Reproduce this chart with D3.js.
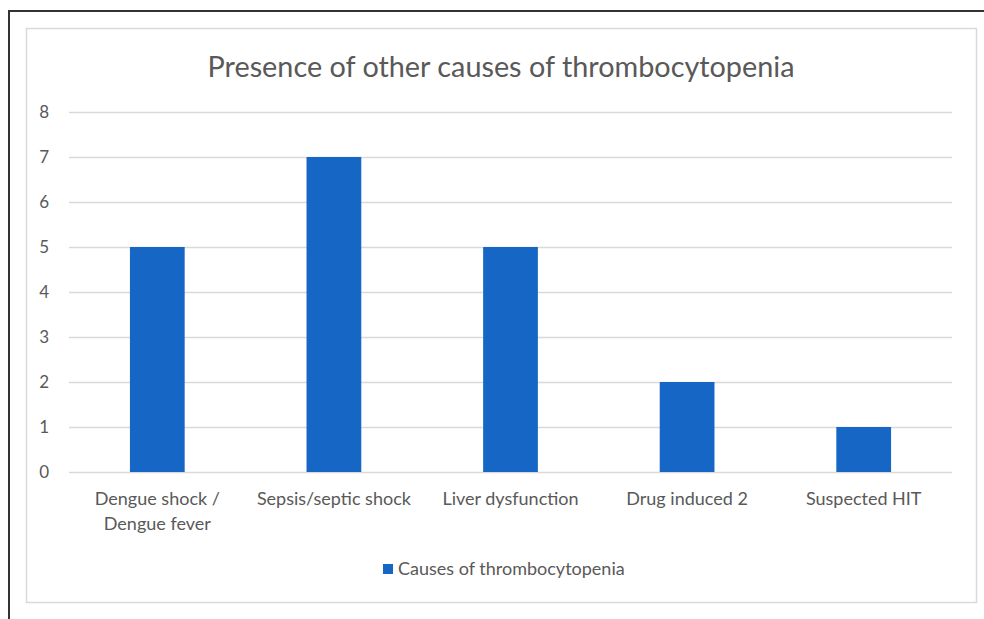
<!DOCTYPE html>
<html>
<head>
<meta charset="utf-8">
<script src="https://cdn.jsdelivr.net/npm/d3@7"></script>
<style>
  body { margin: 0; background: #fff; }
  svg text { font-family: Lato, "Open Sans", sans-serif; fill: #595959; }
</style>
</head>
<body>
<div id="chart"></div>
<script>
// Data
const categories = ["Dengue shock / Dengue fever", "Sepsis/septic shock", "Liver dysfunction", "Drug induced 2", "Suspected HIT"];
const categoryLines = [["Dengue shock /", "Dengue fever"], ["Sepsis/septic shock"], ["Liver dysfunction"], ["Drug induced 2"], ["Suspected HIT"]];
const values = [5, 7, 5, 2, 1];
const yTicks = [0, 1, 2, 3, 4, 5, 6, 7, 8];
const seriesName = "Causes of thrombocytopenia";
const chartTitle = "Presence of other causes of thrombocytopenia";

const width = 984;
const height = 619;
const margin = {top: 112, right: 32, bottom: 147, left: 69};
const innerWidth = width - margin.left - margin.right;
const innerHeight = height - margin.top - margin.bottom;
const barColor = "#1666c5";

const svg = d3.select("#chart")
  .append("svg")
    .attr("width", width)
    .attr("height", height);

// outer dark frame
svg.append("path")
  .attr("d", `M9,${height} V11 H${width}`)
  .attr("fill", "none")
  .attr("stroke", "#333")
  .attr("stroke-width", 2);

// chart area border
svg.append("rect")
  .attr("x", 26.5)
  .attr("y", 28.5)
  .attr("width", 950)
  .attr("height", 574)
  .attr("fill", "#fff")
  .attr("stroke", "#d9d9d9")
  .attr("stroke-width", 1.5);

// Scales
const xScale = d3.scaleBand()
  .domain(categories)
  .range([0, innerWidth])
  .padding(0);

const yScale = d3.scaleLinear()
  .domain([0, 8])
  .range([innerHeight, 0]);

const chart = svg.append("g")
  .attr("transform", `translate(${margin.left}, ${margin.top})`);

// Gridlines via left axis
const leftAxis = d3.axisLeft(yScale)
  .tickValues(yTicks)
  .tickSize(-innerWidth)
  .tickPadding(20)
  .tickFormat(d3.format("d"));
chart.append("g")
    .attr("class", "axis axis-y")
    .call(leftAxis)
    .call(g => g.select(".domain").remove())
    .call(g => g.selectAll(".tick line").attr("stroke", "#d9d9d9").attr("stroke-width", 1.5))
    .call(g => g.selectAll(".tick text")
      .attr("fill", "#595959")
      .style("font-size", "17px"));

// Bars
const barWidth = xScale.bandwidth() * 0.31;
chart.selectAll("rect.bar")
  .data(values)
  .join("rect")
    .attr("class", "bar")
    .attr("x", (d, i) => xScale(categories[i]) + xScale.bandwidth() / 2 - barWidth / 2)
    .attr("y", d => yScale(d))
    .attr("width", barWidth)
    .attr("height", d => yScale(0) - yScale(d))
    .attr("fill", barColor);

// X labels, one text per line
const xLabels = chart.append("g")
  .attr("class", "axis axis-x")
  .attr("transform", `translate(0, ${innerHeight})`);
categoryLines.forEach((lines, i) => {
  lines.forEach((line, j) => {
    xLabels.append("text")
      .attr("x", xScale(categories[i]) + xScale.bandwidth() / 2)
      .attr("y", 33 + j * 25)
      .attr("text-anchor", "middle")
      .style("font-size", "18px")
      .text(line);
  });
});

// Title
svg.append("text")
  .attr("x", 501)
  .attr("y", 77)
  .attr("text-anchor", "middle")
  .style("font-size", "28.8px")
  .text(chartTitle);

// Legend
const legend = svg.append("g")
  .attr("transform", "translate(383, 564)");
legend.append("rect")
  .attr("width", 10)
  .attr("height", 10)
  .attr("fill", barColor);
legend.append("text")
  .attr("x", 15)
  .attr("y", 11)
  .style("font-size", "18px")
  .text(seriesName);
</script>
</body>
</html>
